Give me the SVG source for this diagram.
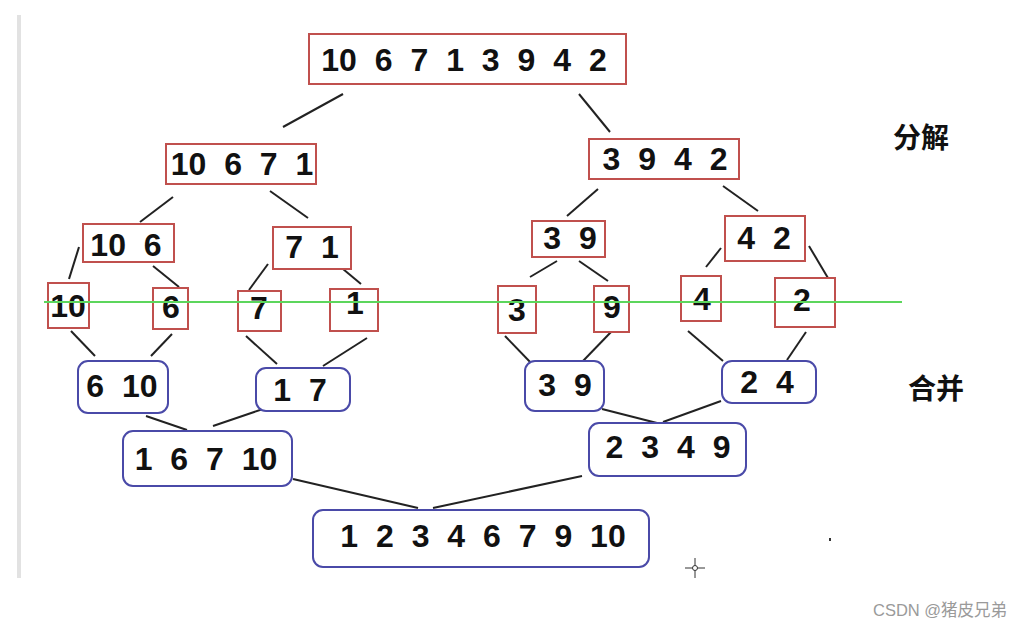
<svg xmlns="http://www.w3.org/2000/svg" width="1025" height="628" viewBox="0 0 1025 628">
<style>
.r{fill:#fff;stroke:#c0504d;stroke-width:2}
.b{fill:#fff;stroke:#4a4aa8;stroke-width:2}
.t{font-family:"Liberation Sans",Arial,sans-serif;font-weight:bold;font-size:32px;fill:#111;text-anchor:middle;word-spacing:9px}
.c{font-family:"Noto Sans CJK SC",sans-serif;font-weight:bold;font-size:28px;fill:#111}
#connectors line{stroke:#222;stroke-width:2}
</style>
<rect x="0" y="0" width="1025" height="628" fill="#fff"/>
<rect x="17" y="15" width="4" height="563" fill="#e2e2e2"/>
<g id="connectors">
<line x1="343" y1="94" x2="283" y2="127"/>
<line x1="579" y1="94" x2="610" y2="132"/>
<line x1="173" y1="197" x2="140" y2="222"/>
<line x1="270" y1="191" x2="308" y2="218"/>
<line x1="598" y1="189" x2="567" y2="216"/>
<line x1="723" y1="186" x2="758" y2="211"/>
<line x1="79" y1="247" x2="69" y2="279"/>
<line x1="153" y1="266" x2="179" y2="287"/>
<line x1="268" y1="264" x2="249" y2="290"/>
<line x1="343" y1="269" x2="361" y2="284"/>
<line x1="557" y1="261" x2="530" y2="277"/>
<line x1="579" y1="261" x2="608" y2="281"/>
<line x1="721" y1="248" x2="706" y2="267"/>
<line x1="809" y1="246" x2="828" y2="278"/>
<line x1="71" y1="331" x2="95" y2="356"/>
<line x1="172" y1="334" x2="151" y2="356"/>
<line x1="246" y1="336" x2="277" y2="364"/>
<line x1="367" y1="338" x2="323" y2="366"/>
<line x1="505" y1="336" x2="533" y2="365"/>
<line x1="611" y1="332" x2="583" y2="361"/>
<line x1="688" y1="331" x2="723" y2="361"/>
<line x1="806" y1="332" x2="787" y2="360"/>
<line x1="146" y1="416" x2="187" y2="430"/>
<line x1="263" y1="409" x2="213" y2="426"/>
<line x1="602" y1="409" x2="657" y2="423"/>
<line x1="721" y1="401" x2="663" y2="422"/>
<line x1="293" y1="479" x2="418" y2="508"/>
<line x1="582" y1="476" x2="433" y2="508"/>
</g>
<g id="n-all"><rect class="r" x="309" y="34" width="317" height="50"/><text class="t" x="464" y="71">10 6 7 1 3 9 4 2</text></g>
<g id="n-10671"><rect class="r" x="166" y="144" width="150" height="40"/><text class="t" x="242" y="175">10 6 7 1</text></g>
<g id="n-3942"><rect class="r" x="589" y="139" width="150" height="40"/><text class="t" x="665" y="170">3 9 4 2</text></g>
<g id="n-106"><rect class="r" x="83" y="224" width="91" height="38"/><text class="t" x="126" y="256">10 6</text></g>
<g id="n-71"><rect class="r" x="273" y="227" width="78" height="42"/><text class="t" x="312" y="258">7 1</text></g>
<g id="n-39a"><rect class="r" x="532" y="221" width="73" height="36"/><text class="t" x="570" y="249">3 9</text></g>
<g id="n-42"><rect class="r" x="725" y="216" width="80" height="45"/><text class="t" x="764" y="249">4 2</text></g>
<g id="n-10"><rect class="r" x="48" y="283" width="41" height="45"/><text class="t" x="68" y="317">10</text></g>
<g id="n-6"><rect class="r" x="153" y="288" width="35" height="41"/><text class="t" x="171" y="318">6</text></g>
<g id="n-7"><rect class="r" x="238" y="291" width="43" height="40"/><text class="t" x="259" y="319">7</text></g>
<g id="n-1"><rect class="r" x="330" y="289" width="48" height="42"/><text class="t" x="355" y="314">1</text></g>
<g id="n-3"><rect class="r" x="498" y="286" width="38" height="47"/><text class="t" x="517" y="321">3</text></g>
<g id="n-9"><rect class="r" x="594" y="286" width="35" height="46"/><text class="t" x="612" y="318">9</text></g>
<g id="n-4"><rect class="r" x="681" y="276" width="40" height="45"/><text class="t" x="702" y="310">4</text></g>
<g id="n-2"><rect class="r" x="775" y="278" width="60" height="49"/><text class="t" x="802" y="311">2</text></g>
<line x1="44" y1="302" x2="902" y2="302" stroke="#5cd65c" stroke-width="2"/>
<g id="m-610"><rect class="b" x="78" y="361" width="90" height="52" rx="10"/><text class="t" x="122" y="397">6 10</text></g>
<g id="m-17"><rect class="b" x="256" y="368" width="94" height="43" rx="10"/><text class="t" x="300" y="401">1 7</text></g>
<g id="m-39"><rect class="b" x="525" y="361" width="79" height="50" rx="10"/><text class="t" x="565" y="396">3 9</text></g>
<g id="m-24"><rect class="b" x="722" y="361" width="94" height="42" rx="10"/><text class="t" x="767" y="393">2 4</text></g>
<g id="m-16710"><rect class="b" x="123" y="431" width="169" height="55" rx="10"/><text class="t" x="206" y="470">1 6 7 10</text></g>
<g id="m-2349"><rect class="b" x="589" y="423" width="157" height="53" rx="10"/><text class="t" x="668" y="458">2 3 4 9</text></g>
<g id="m-final"><rect class="b" x="313" y="510" width="336" height="57" rx="10"/><text class="t" x="483" y="547">1 2 3 4 6 7 9 10</text></g>
<text class="c" x="893" y="148">分解</text>
<text class="c" x="908" y="399">合并</text>
<g id="cursor" stroke="#333" stroke-width="1" fill="none">
<line x1="685" y1="568" x2="705" y2="568"/><line x1="695" y1="558" x2="695" y2="578"/>
<circle cx="695" cy="568" r="2.5" fill="#fff"/>
</g>
<rect x="829" y="538" width="2" height="3" fill="#333"/>
<text x="873" y="616" font-family="'Liberation Sans','Noto Sans CJK SC',sans-serif" font-size="16.5" fill="#9a9a9a">CSDN @猪皮兄弟</text>
</svg>
